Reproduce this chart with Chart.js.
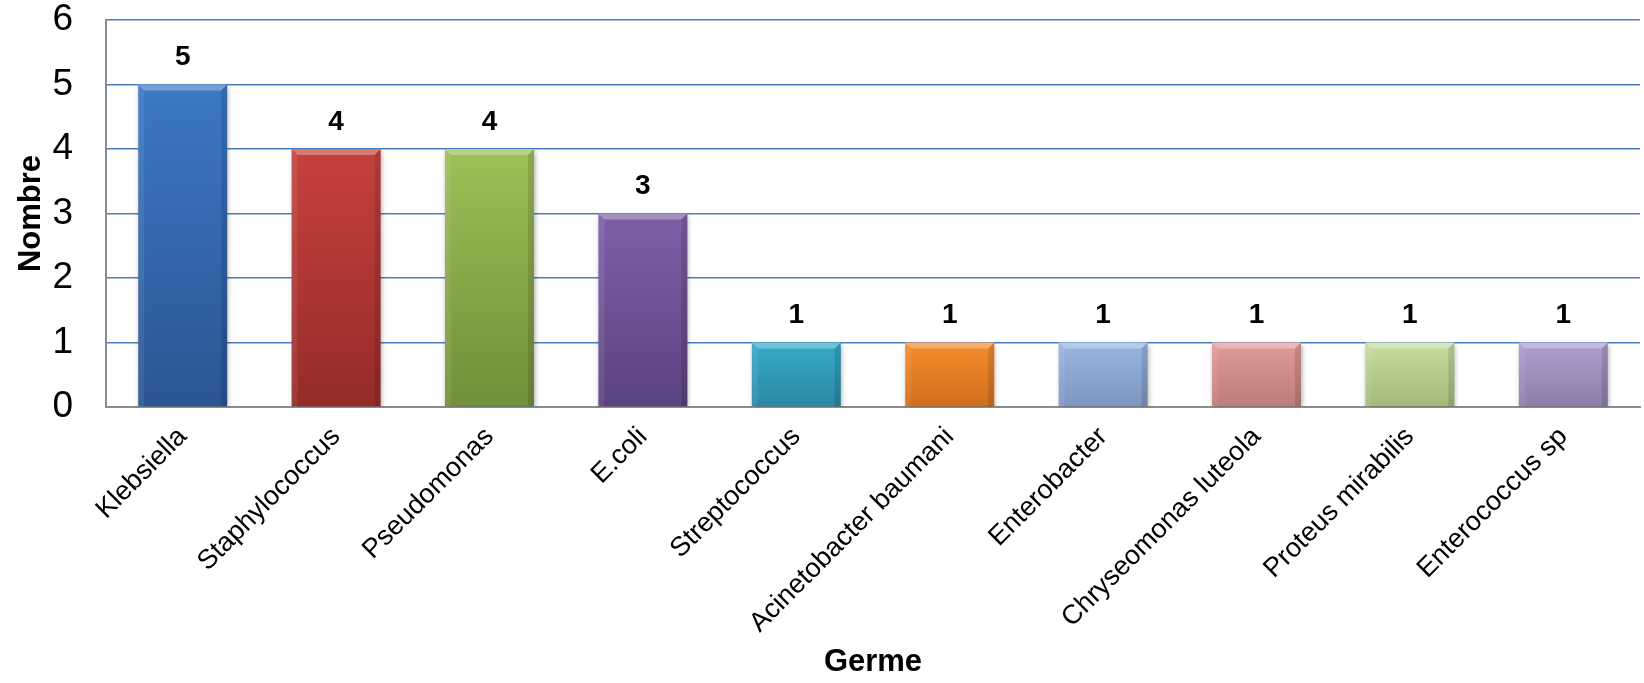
<!DOCTYPE html>
<html>
<head>
<meta charset="utf-8">
<script src="https://cdn.jsdelivr.net/npm/chart.js@4"></script>
<style>
html,body{margin:0;padding:0;background:#fff;}
#wrap{width:1644px;height:683px;position:relative;}
</style>
</head>
<body>
<div id="wrap"><canvas id="c" width="1644" height="683"></canvas></div>
<script>
const categories = ["Klebsiella","Staphylococcus","Pseudomonas","E.coli","Streptococcus","Acinetobacter baumani","Enterobacter","Chryseomonas luteola","Proteus mirabilis","Enterococcus sp"];
const counts = [5,4,4,3,1,1,1,1,1,1];
const yTicks = [0,1,2,3,4,5,6];
const barTop = ["#3c78c4","#c6413d","#9ec057","#7e60a8","#36abc9","#f78c2d","#99b6e0","#e09c9a","#c6dd9f","#ae9ecf"];
const barBottom = ["#2b5592","#952b29","#718f38","#5b4280","#2a88a3","#cf6f1c","#7d96c0","#bd7b79","#a2b97b","#8c7ea8"];
const FONT = '"Liberation Sans", Arial, sans-serif';

const valueLabels = {
  id:'valueLabels',
  afterDatasetsDraw(chart){
    const ctx = chart.ctx;
    const meta = chart.getDatasetMeta(0);
    ctx.save();
    ctx.font = 'bold 28px ' + FONT;
    ctx.fillStyle = '#000';
    ctx.textAlign = 'center';
    ctx.textBaseline = 'middle';
    meta.data.forEach((bar,i)=>{
      ctx.fillText(String(counts[i]), bar.x, bar.y - 27);
    });
    ctx.restore();
  }
};
const bevel = {
  id:'bevel',
  afterDatasetsDraw(chart){
    const ctx = chart.ctx;
    const meta = chart.getDatasetMeta(0);
    ctx.save();
    meta.data.forEach((bar)=>{
      const w = bar.width, l = bar.x - w/2, r = bar.x + w/2, t = bar.y, b = bar.base;
      const d = 6;
      ctx.fillStyle = 'rgba(255,255,255,0.30)';
      ctx.beginPath(); ctx.moveTo(l,t); ctx.lineTo(r,t); ctx.lineTo(r-d,t+d); ctx.lineTo(l+d,t+d); ctx.closePath(); ctx.fill();
      ctx.fillStyle = 'rgba(255,255,255,0.08)';
      ctx.beginPath(); ctx.moveTo(l,t); ctx.lineTo(l+d,t+d); ctx.lineTo(l+d,b); ctx.lineTo(l,b); ctx.closePath(); ctx.fill();
      ctx.fillStyle = 'rgba(0,0,0,0.12)';
      ctx.beginPath(); ctx.moveTo(r,t); ctx.lineTo(r-d,t+d); ctx.lineTo(r-d,b); ctx.lineTo(r,b); ctx.closePath(); ctx.fill();
    });
    ctx.restore();
  }
};
const shadow = {
  id:'shadow',
  beforeDatasetsDraw(chart){ const c=chart.ctx; c.save(); c.shadowColor='rgba(0,0,0,0.35)'; c.shadowBlur=5; c.shadowOffsetX=1; c.shadowOffsetY=2; },
  afterDatasetsDraw(chart){ chart.ctx.restore(); }
};

new Chart(document.getElementById('c'), {
  type:'bar',
  data:{
    labels: categories,
    datasets:[{
      data: counts,
      backgroundColor(ctx){
        const chart = ctx.chart; const ys = chart.scales.y;
        const i = ctx.dataIndex;
        if(!chart.chartArea || !ys) return barTop[i];
        const top = ys.getPixelForValue(counts[i]);
        const bot = ys.getPixelForValue(0);
        const g = chart.ctx.createLinearGradient(0, top, 0, bot);
        g.addColorStop(0, barTop[i]);
        g.addColorStop(1, barBottom[i]);
        return g;
      },
      borderWidth:0,
      categoryPercentage:1,
      barPercentage:0.58
    }]
  },
  plugins:[shadow, bevel, valueLabels],
  options:{
    responsive:false,
    animation:false,
    events:[],
    layout:{padding:{left:0,right:4,top:20,bottom:0}},
    plugins:{legend:{display:false},tooltip:{enabled:false}},
    scales:{
      y:{
        min:0,max:6,
        afterBuildTicks(scale){ scale.ticks = yTicks.map(v=>({value:v})); },
        afterFit(scale){ scale.width = 106; scale.paddingTop = 0; scale.paddingBottom = 0; },
        ticks:{font:{family:FONT,size:37},color:'#000',padding:33},
        grid:{color:'#4a7ebb',lineWidth:1.5,drawTicks:false},
        border:{display:true,color:'#8c8c8c',width:2},
        title:{display:true,text:'Nombre',font:{family:FONT,size:31,weight:'bold'},color:'#000',padding:{top:13,bottom:0}}
      },
      x:{
        afterFit(scale){ scale.height = 683 - 407; scale.paddingLeft = 0; scale.paddingRight = 0; },
        ticks:{font:{family:FONT,size:27},color:'#000',maxRotation:45,minRotation:45,padding:14,autoSkip:false},
        grid:{display:false,drawTicks:false},
        border:{display:true,color:'#8c8c8c',width:2},
        title:{display:true,text:'Germe',font:{family:FONT,size:31,weight:'bold'},color:'#000',padding:{top:0,bottom:2}}
      }
    }
  }
});
</script>
</body>
</html>
